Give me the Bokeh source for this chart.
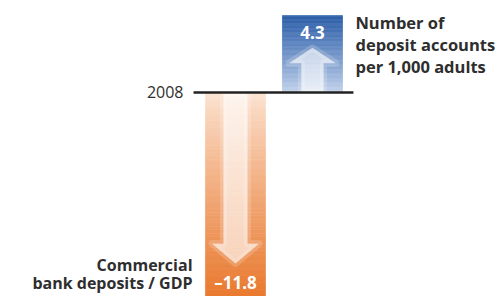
import numpy as np
from bokeh.plotting import figure
from bokeh.models import Range1d
from bokeh.core.properties import value
from bokeh.embed import file_html
from bokeh.resources import INLINE

# ---- data ----
series_labels = ["Commercial\nbank deposits / GDP", "Number of\ndeposit accounts\nper 1,000 adults"]
changes = [-11.8, 4.3]
value_labels = ["\u201311.8", "4.3"]
base_label = "2008"

# ---- styles ----
positions = [0.0, 1.0]
bar_width = 0.78
grad_base = ["#fce6d6", "#c9d8ee"]   # colour at the 2008 line
grad_end = ["#e8762a", "#2c5ea9"]    # colour at the bar end
arrow_shape = [  # shaft half-width, head half-width, head base frac, tip frac
    (0.40, 0.78, 0.716, 0.81),
    (0.37, 0.78, 0.38, 0.58),
]
TEXT = "#2e2e2e"
FONT = value("Open Sans")

W, H = 502, 296
p = figure(width=W, height=H, output_backend="svg", toolbar_location=None,
           x_range=Range1d(-3.052, 3.468), y_range=Range1d(-11.40, 5.14),
           x_axis_type=None, y_axis_type=None, min_border=0)
p.grid.visible = False
p.outline_line_color = None


def hex2rgb(h):
    h = h.lstrip("#")
    return np.array([int(h[i:i + 2], 16) for i in (0, 2, 4)], dtype=float)


def lerp(c1, c2, t):
    c = hex2rgb(c1) * (1 - t) + hex2rgb(c2) * t
    return "#%02x%02x%02x" % tuple(int(round(v)) for v in c)


N = 60
for xc, v, cb, ce, (sw, hw, fb, ft) in zip(positions, changes, grad_base, grad_end, arrow_shape):
    edges = np.linspace(0, v, N + 1)
    ts = (np.arange(N) + 0.5) / N
    cols = [lerp(cb, ce, t ** 0.85) for t in ts]
    half = bar_width / 2
    p.quad(left=[xc - half] * N, right=[xc + half] * N,
           top=np.maximum(edges[:-1], edges[1:]), bottom=np.minimum(edges[:-1], edges[1:]),
           fill_color=cols, line_color=cols, line_width=0.6)
    # soft white arrow
    s, h = sw * half, hw * half
    xs = [xc - s, xc - s, xc - h, xc, xc + h, xc + s, xc + s]
    ys = [0, v * fb, v * fb, v * ft, v * fb, v * fb, 0]
    p.patch(xs, ys, fill_color="white", fill_alpha=0.18, line_color="white",
            line_alpha=0.18, line_width=7, line_join="round")
    p.patch(xs, ys, fill_color="white", fill_alpha=0.55, line_color=None)

# 2008 reference line
p.segment(x0=[positions[0] - 0.545], x1=[positions[1] + 0.532], y0=[0], y1=[0],
          line_color="#222222", line_width=2.5)
p.text(x=[positions[0] - 0.675], y=[0], text=[base_label], text_align="right",
       text_baseline="middle", text_color=TEXT, text_font=FONT, text_font_size="16px")

# value labels
p.text(x=[positions[1]], y=[changes[1]], text=[value_labels[1]], text_align="center",
       text_baseline="alphabetic", y_offset=17, text_color="white", text_font=FONT,
       text_font_style="bold", text_font_size="17px")
p.text(x=[positions[0]], y=[changes[0]], text=[value_labels[0]], text_align="center",
       text_baseline="alphabetic", y_offset=-21, text_color="white", text_font=FONT,
       text_font_style="bold", text_font_size="17px")

# series labels, one line at a time
for i, line in enumerate(series_labels[1].split("\n")):
    p.text(x=[positions[1] + 0.558], y=[changes[1]], text=[line], text_align="left",
           text_baseline="alphabetic", y_offset=7 + 22 * i, text_color=TEXT, text_font=FONT,
           text_font_style="bold", text_font_size="16.5px")
left_lines = series_labels[0].split("\n")
for i, line in enumerate(left_lines):
    k = len(left_lines) - 1 - i
    p.text(x=[positions[0] - 0.558], y=[changes[0]], text=[line], text_align="right",
           text_baseline="alphabetic", y_offset=-21 - 18 * k, text_color=TEXT, text_font=FONT,
           text_font_style="bold", text_font_size="16px")

open("out.html", "w").write(file_html(p, INLINE))
